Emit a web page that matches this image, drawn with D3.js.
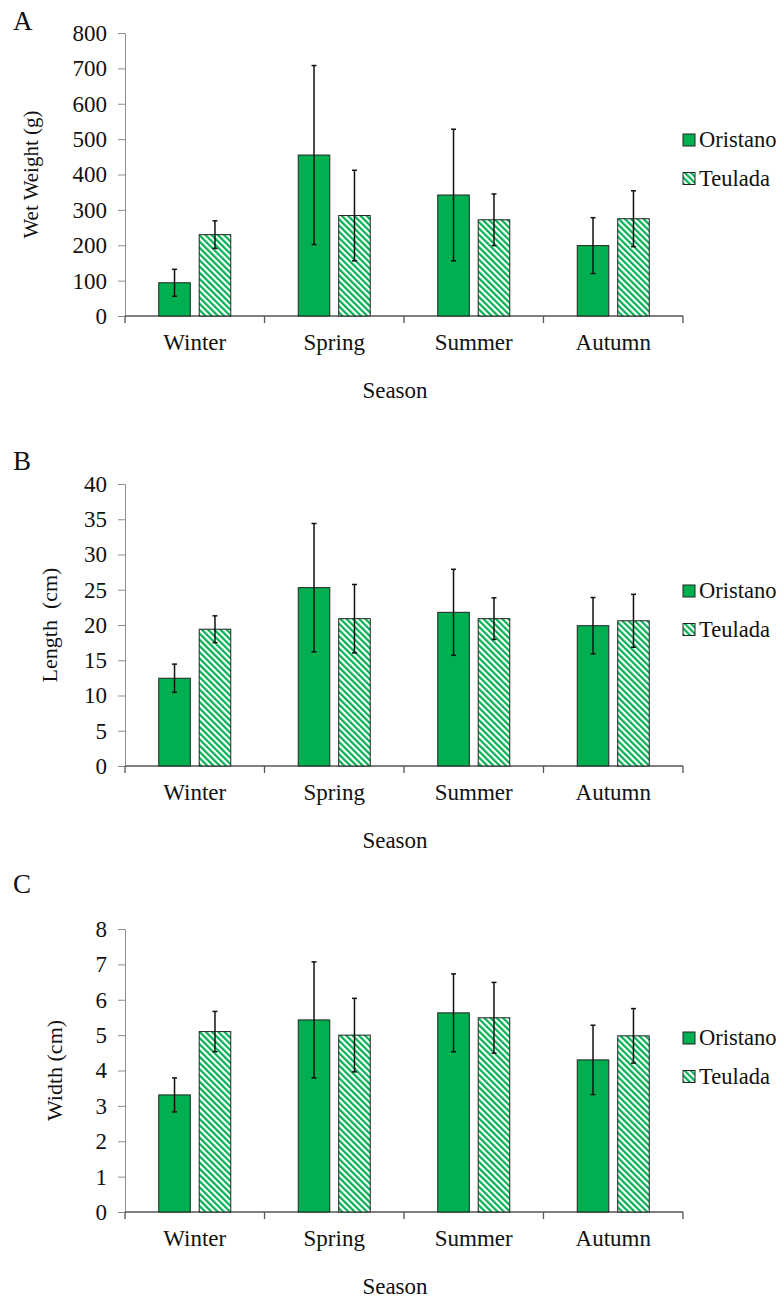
<!DOCTYPE html>
<html>
<head>
<meta charset="utf-8">
<script src="https://cdn.jsdelivr.net/npm/d3@7"></script>
<style>
  body { margin: 0; background: #fff; }
</style>
</head>
<body>
<script>
var seasons = ['Winter', 'Spring', 'Summer', 'Autumn']
var sites = ['Oristano', 'Teulada']

// panel A - wet weight (g)
var weightOristano = [94, 455, 342, 199]
var weightOristanoErr = [38, 253, 186, 79]
var weightTeulada = [230, 284, 272, 275]
var weightTeuladaErr = [39, 128, 73, 79]

// panel B - length (cm)
var lengthOristano = [12.45, 25.3, 21.8, 19.9]
var lengthOristanoErr = [2.0, 9.1, 6.1, 4.0]
var lengthTeulada = [19.4, 20.9, 20.9, 20.6]
var lengthTeuladaErr = [1.9, 4.85, 2.95, 3.75]

// panel C - width (cm)
var widthOristano = [3.31, 5.43, 5.63, 4.30]
var widthOristanoErr = [0.48, 1.64, 1.1, 0.98]
var widthTeulada = [5.10, 5.0, 5.49, 4.98]
var widthTeuladaErr = [0.57, 1.04, 1.0, 0.77]

var green = '#00b050'
var serif = '"Liberation Serif", "Times New Roman", Times, serif'

var svg = d3.select('body').append('svg').attr('width', 784).attr('height', 1302)

// hatch for Teulada
var defs = svg.append('defs')
var pat = defs.append('pattern')
    .attr('id', 'hatch')
    .attr('patternUnits', 'userSpaceOnUse')
    .attr('width', 4.4).attr('height', 10)
    .attr('patternTransform', 'rotate(-45)')
pat.append('rect').attr('width', 4.4).attr('height', 10).attr('fill', '#fff')
pat.append('rect').attr('width', 2.2).attr('height', 10).attr('fill', green)

var panels = [
    {letter: 'A', letterY: 30, top: 33, bottom: 316, max: 800, step: 100, title: 'Wet Weight (g)', titleX: 38, titleSize: 21,
     a: weightOristano, aErr: weightOristanoErr, b: weightTeulada, bErr: weightTeuladaErr, legendY: 134},
    {letter: 'B', letterY: 470, top: 484, bottom: 766, max: 40, step: 5, title: 'Length\u00a0\u00a0(cm)', titleX: 57, titleSize: 22,
     a: lengthOristano, aErr: lengthOristanoErr, b: lengthTeulada, bErr: lengthTeuladaErr, legendY: 585},
    {letter: 'C', letterY: 893, top: 929, bottom: 1212, max: 8, step: 1, title: 'Width (cm)', titleX: 62, titleSize: 22,
     a: widthOristano, aErr: widthOristanoErr, b: widthTeulada, bErr: widthTeuladaErr, legendY: 1032}
]

var left = 125, right = 683

var x = d3.scaleBand().domain(seasons).range([left, right])
var xSub = d3.scaleBand().domain(sites).range([0, 72]).paddingInner(0.22)

panels.forEach(function(p) {
    var y = d3.scaleLinear().domain([0, p.max]).range([p.bottom, p.top])
    var g = svg.append('g')

    g.append('text').attr('x', 13).attr('y', p.letterY).attr('font-size', 27).text(p.letter)

    // y axis
    var yAxis = d3.axisLeft(y).tickValues(d3.range(0, p.max + p.step / 2, p.step)).tickSize(7).tickPadding(11)
    var ya = g.append('g').attr('transform', `translate(${left},0)`).call(yAxis)
    ya.selectAll('text').attr('font-size', 23)
    ya.selectAll('line, path').attr('stroke', '#8f8f8f')

    // x axis, ticks at band edges
    var xa = g.append('g').attr('transform', `translate(0,${p.bottom})`)
    xa.append('line').attr('x1', left).attr('x2', right).attr('stroke', '#555').attr('stroke-width', 1.3)
    xa.selectAll('.tk').data(d3.range(seasons.length + 1)).enter().append('line')
        .attr('x1', i => left + i * x.step()).attr('x2', i => left + i * x.step())
        .attr('y1', 0).attr('y2', 7).attr('stroke', '#555').attr('stroke-width', 1.3)
    xa.selectAll('.lb').data(seasons).enter().append('text')
        .attr('x', d => x(d) + x.bandwidth() / 2).attr('y', 34)
        .attr('text-anchor', 'middle').attr('font-size', 23).text(d => d)

    g.append('text').attr('x', 395).attr('y', p.bottom + 82).attr('text-anchor', 'middle')
        .attr('font-size', 23).text('Season')

    g.append('text')
        .attr('transform', `translate(${p.titleX},${(p.top + p.bottom) / 2}) rotate(-90)`)
        .attr('text-anchor', 'middle').attr('font-size', p.titleSize).text(p.title)

    var rows = []
    seasons.forEach(function(s, i) {
        rows.push({season: s, site: 'Oristano', v: p.a[i], e: p.aErr[i]})
        rows.push({season: s, site: 'Teulada', v: p.b[i], e: p.bErr[i]})
    })
    var gx = d => x(d.season) + (x.bandwidth() - 72) / 2 + xSub(d.site)

    g.selectAll('.bar').data(rows).enter().append('rect')
        .attr('x', gx).attr('width', xSub.bandwidth())
        .attr('y', d => y(d.v)).attr('height', d => p.bottom - y(d.v))
        .attr('fill', d => d.site === 'Oristano' ? green : 'url(#hatch)')
        .attr('stroke', '#222').attr('stroke-width', 1)

    var eb = g.selectAll('.err').data(rows).enter().append('g')
        .attr('transform', d => `translate(${gx(d) + xSub.bandwidth() / 2},0)`)
    eb.append('line').attr('y1', d => y(d.v + d.e)).attr('y2', d => y(d.v - d.e))
        .attr('stroke', '#111').attr('stroke-width', 1.5)
    eb.append('line').attr('x1', -2.5).attr('x2', 2.5).attr('y1', d => y(d.v + d.e)).attr('y2', d => y(d.v + d.e))
        .attr('stroke', '#111').attr('stroke-width', 1.5)
    eb.append('line').attr('x1', -2.5).attr('x2', 2.5).attr('y1', d => y(d.v - d.e)).attr('y2', d => y(d.v - d.e))
        .attr('stroke', '#111').attr('stroke-width', 1.5)

    // legend
    var lg = g.selectAll('.lg').data(sites).enter().append('g')
        .attr('transform', (d, i) => `translate(683,${p.legendY + i * 38.5})`)
    lg.append('rect').attr('width', 12).attr('height', 12)
        .attr('fill', d => d === 'Oristano' ? green : 'url(#hatch)')
        .attr('stroke', '#222').attr('stroke-width', 1)
    lg.append('text').attr('x', 16).attr('y', 13).attr('font-size', 22.5).text(d => d)
})

// same serif face everywhere, inline so the axis defaults do not win
svg.selectAll('text').style('font-family', serif).attr('fill', '#111')
</script>
</body>
</html>
